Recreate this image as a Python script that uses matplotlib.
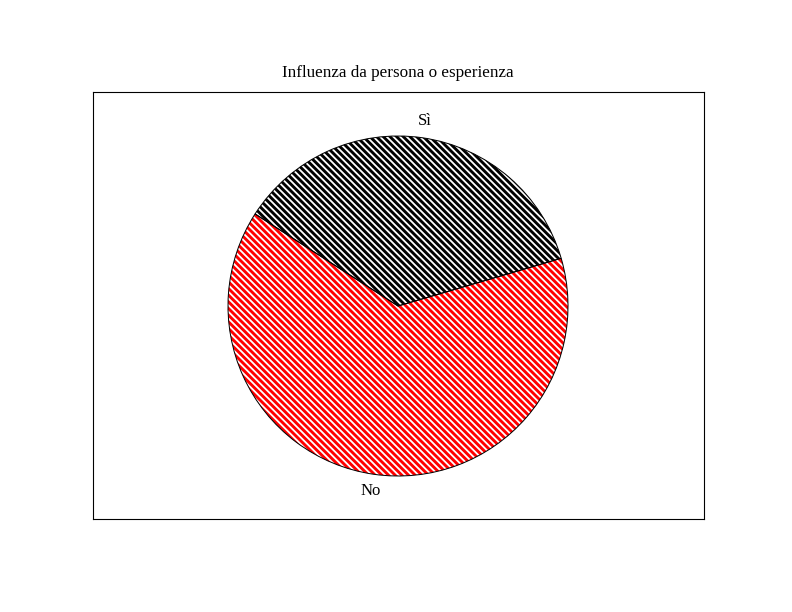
import numpy as np
import matplotlib
matplotlib.use("Agg")
import matplotlib.pyplot as plt

title = "Influenza da persona o esperienza"
labels = ["Sì", "No"]
values = [4, 7]
colors = ["black", "red"]

plt.rcParams['hatch.linewidth'] = 2.6
plt.rcParams['font.family'] = ['Liberation Serif', 'DejaVu Serif']

DPI = 80
fig = plt.figure(figsize=(792 / DPI, 612 / DPI), dpi=DPI)
W, H = 792, 612
# frame box in pixels
x0, y0, x1, y1 = 93, 92, 704, 519
ax = fig.add_axes([x0 / W, 1 - y1 / H, (x1 - x0) / W, (y1 - y0) / H])
ax.set_xlim(0, x1 - x0)
ax.set_ylim(0, y1 - y0)
cx, cy, r = 398 - x0, y1 - 306, 170
start = 16.3

wedges, _ = ax.pie(values, colors=["white"] * len(values), startangle=start,
                   counterclock=True, radius=r, center=(cx, cy), frame=True,
                   wedgeprops=dict(linewidth=0))
for w, c in zip(wedges, colors):
    w.set_edgecolor(c)
    w.set_hatch("\\\\\\\\")
    w.set_linewidth(0)
ax.pie(values, colors=["none"] * len(values), startangle=start,
       counterclock=True, radius=r, center=(cx, cy), frame=True,
       wedgeprops=dict(linewidth=0.9, edgecolor="black", fill=False))

ax.set_xlim(0, x1 - x0)
ax.set_ylim(0, y1 - y0)
ax.set_xticks([])
ax.set_yticks([])
for s in ax.spines.values():
    s.set_linewidth(1.0)
    s.set_color("black")

tot = sum(values)
ang = start
for lab, v in zip(labels, values):
    span = 360 * v / tot
    mid = np.deg2rad(ang + span / 2)
    ax.text(cx + 1.1 * r * np.cos(mid), cy + 1.1 * r * np.sin(mid), lab,
            ha="center", va="center", fontsize=15)
    ang += span

fig.text(398 / W, 1 - 77 / H, title, ha="center", va="baseline", fontsize=15.3)

fig.savefig("out.png", dpi=DPI)
